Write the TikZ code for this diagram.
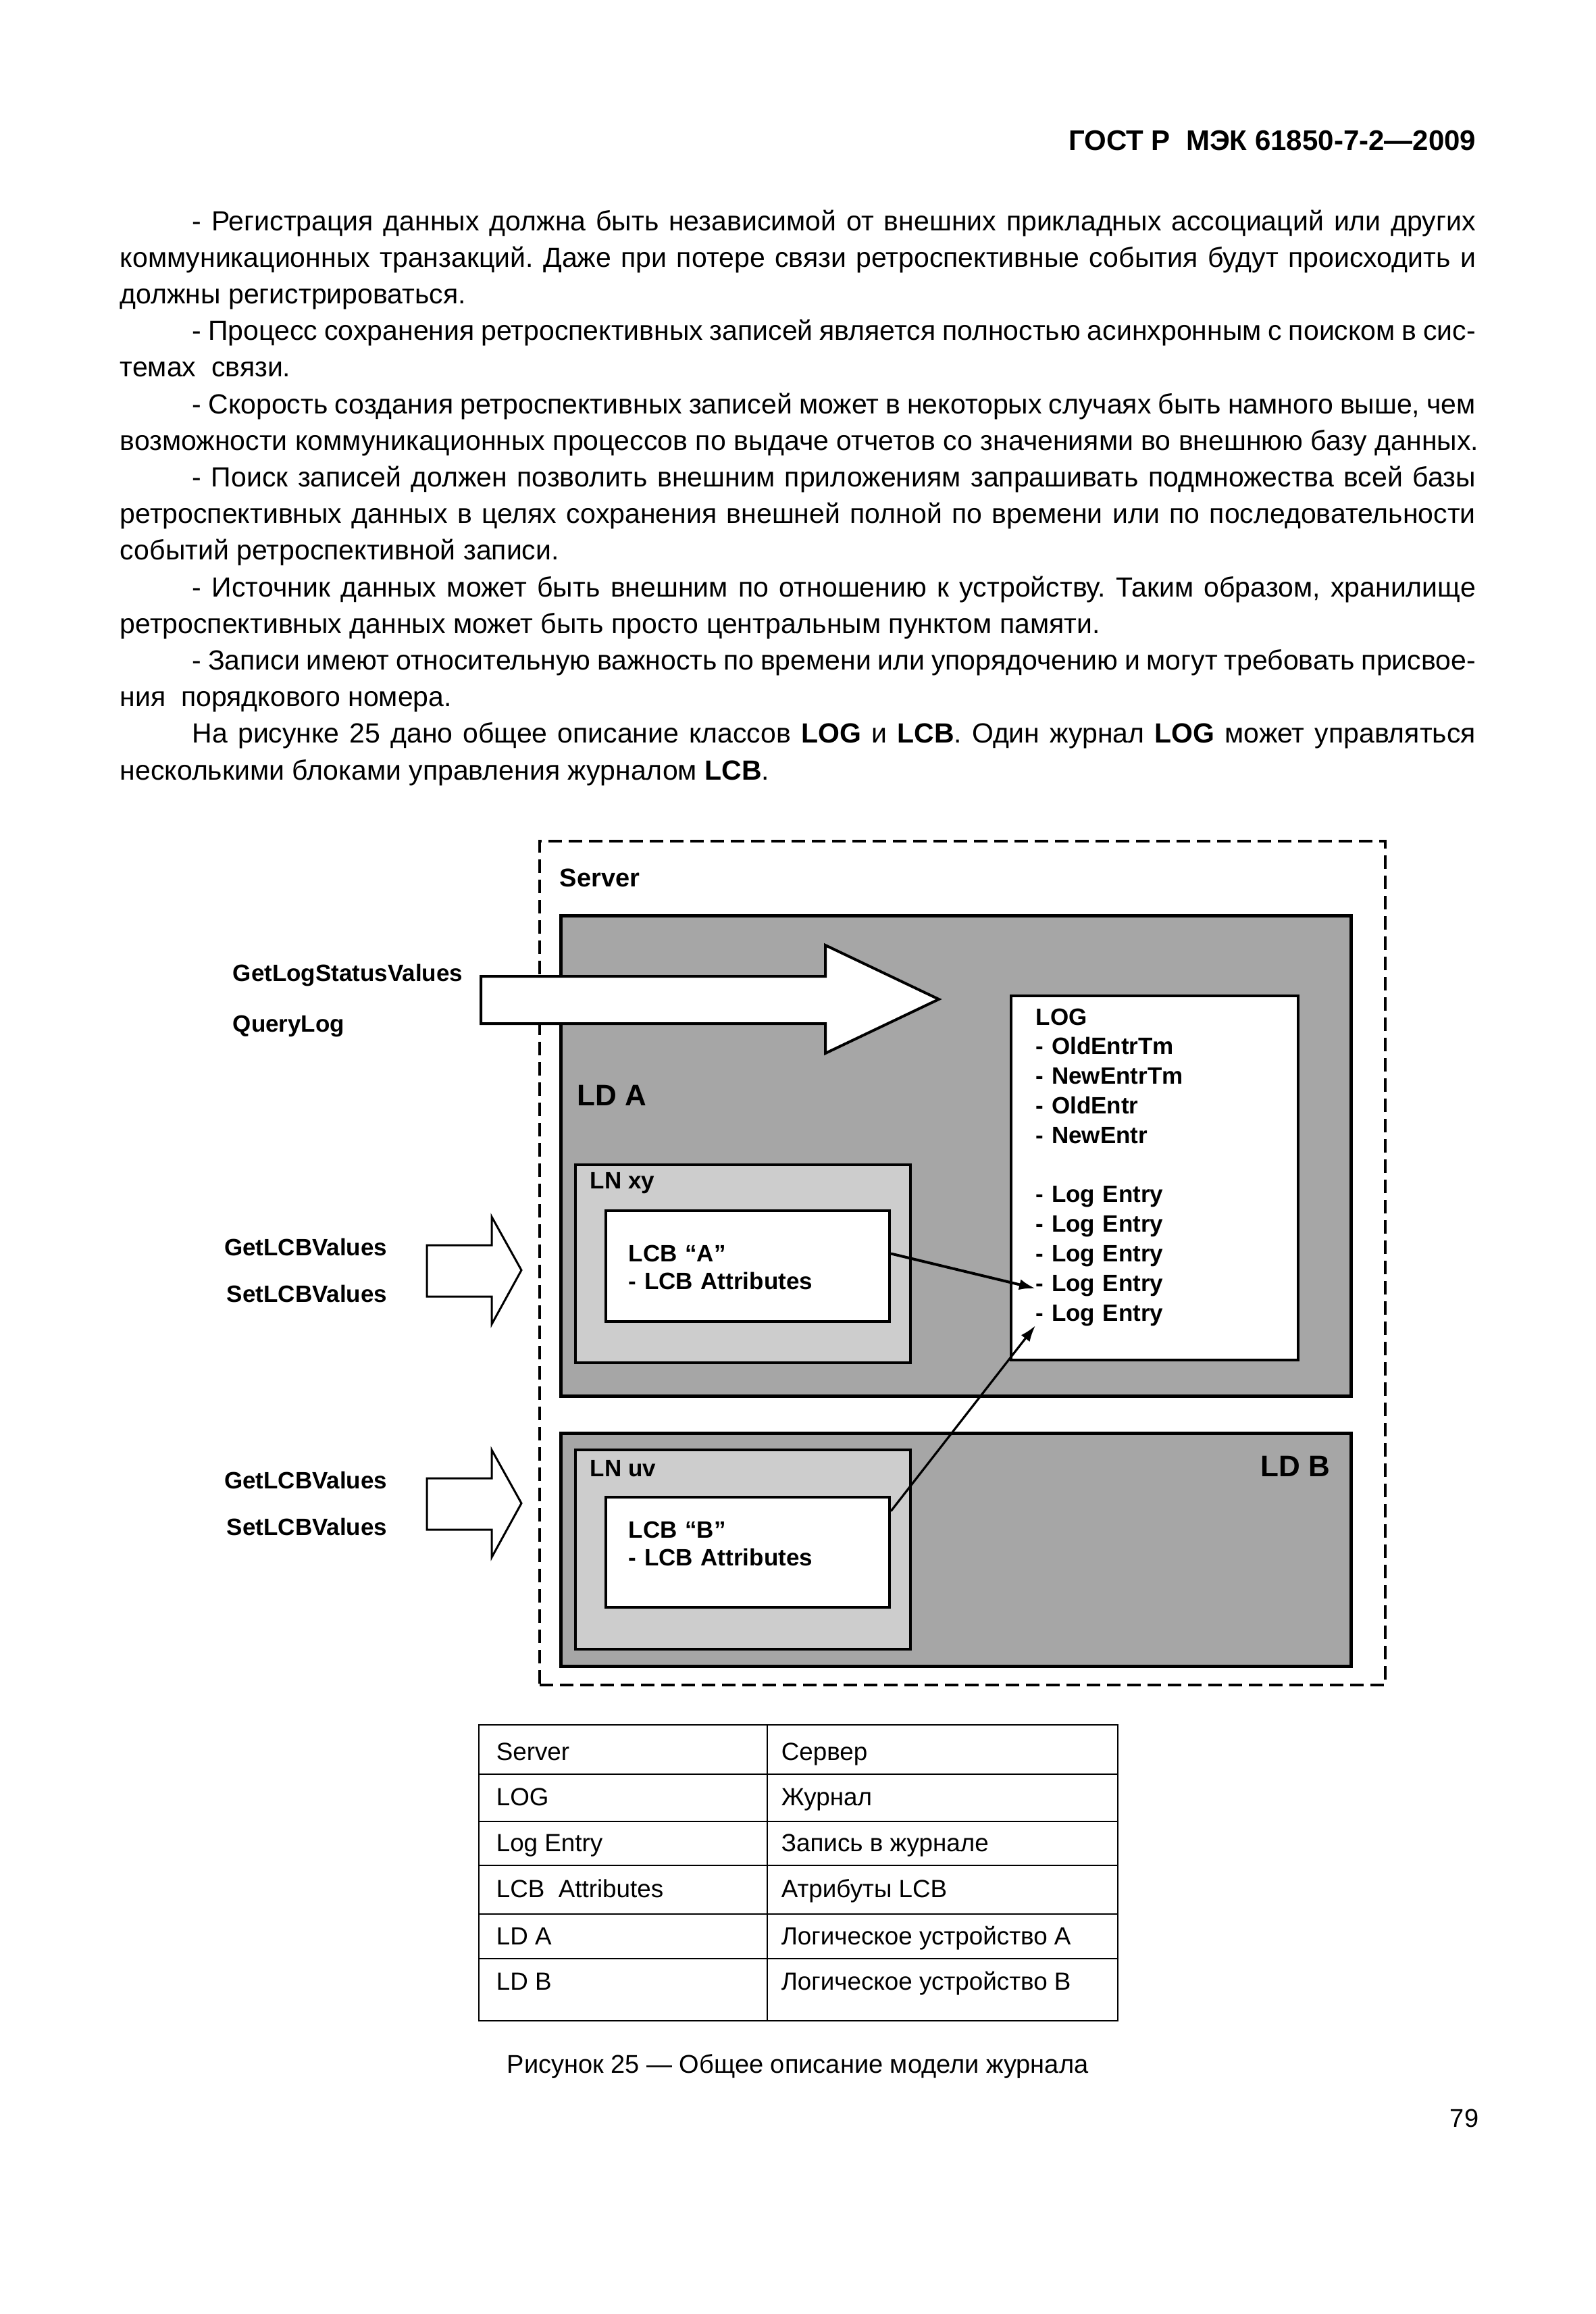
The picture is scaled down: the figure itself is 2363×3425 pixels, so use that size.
\documentclass[tikz,border=0pt]{standalone}
\usepackage{fontspec}
\setmainfont{Liberation Sans}
\usepackage{xcolor}
\usepackage{tikz}
\usetikzlibrary{arrows.meta,positioning,calc,fit}
\definecolor{ldgray}{RGB}{166,166,166}
\definecolor{lngray}{RGB}{205,205,205}
\newlength{\bodyw}\setlength{\bodyw}{501.75pt}
\newlength{\indw}\setlength{\indw}{475pt}
\newcommand{\jline}[1]{\makebox[\bodyw][s]{#1}}
\newcommand{\jind}[1]{\makebox[\indw][s]{#1}}
\frenchspacing

\begin{document}
\begin{tikzpicture}[x=0.25pt, y=-0.25pt,
    body/.style={font=\fontsize{10.25}{12.3}\selectfont, anchor=base west, inner sep=0pt},
    head/.style={font=\bfseries\fontsize{10.5}{12.6}\selectfont, anchor=base east, inner sep=0pt},
    lbl/.style={font=\bfseries\fontsize{8.75}{10.25}\selectfont, anchor=base west, inner sep=0pt},
    bigl/.style={font=\bfseries\fontsize{11}{13}\selectfont, inner sep=0pt},
    server/.style={draw, line width=1pt, dash pattern=on 5pt off 2.5pt, inner sep=0pt},
    ldbox/.style={draw, line width=1.25pt, fill=ldgray, inner sep=0pt},
    lnbox/.style={draw, line width=1pt, fill=lngray, inner sep=0pt},
    wbox/.style={draw, line width=1pt, fill=white, inner sep=0pt},
    blockarr/.style={draw, fill=white, line join=miter},
    link/.style={-{Latex[length=6pt,width=4pt]}, line width=1pt},
    tbl/.style={line width=0.7pt},
    cell/.style={font=\fontsize{9.2}{11}\selectfont, anchor=base west, inner sep=0pt},
    capt/.style={font=\fontsize{9.5}{11.4}\selectfont, inner sep=0pt}
]
\path[use as bounding box, fill=white] (0,0) rectangle (2363,3425);

% page head and text
\node[head] (gost) at (2186,223) {ГОСТ Р\ \ МЭК 61850-7-2—2009};
\node[body] (p1)  at (284,341)    {\jind{- Регистрация данных должна быть независимой от внешних прикладных ассоциаций или других}};
\node[body] (p2)  at (177,395.2)  {\jline{коммуникационных транзакций. Даже при потере связи ретроспективные  события  будут происходить и}};
\node[body] (p3)  at (177,449.4)  {должны регистрироваться.};
\node[body] (p4)  at (284,503.6)  {\jind{- Процесс сохранения ретроспективных записей является полностью асинхронным с поиском в сис-}};
\node[body] (p5)  at (177,557.8)  {темах\ \ связи.};
\node[body] (p6)  at (284,612)    {\jind{- Скорость создания ретроспективных записей может в некоторых случаях быть намного выше, чем}};
\node[body] (p7)  at (177,666.2)  {возможности коммуникационных процессов по выдаче отчетов со значениями во внешнюю базу данных.};
\node[body] (p8)  at (284,720.4)  {\jind{- Поиск записей должен позволить внешним приложениям запрашивать подмножества всей базы}};
\node[body] (p9)  at (177,774.6)  {\jline{ретроспективных данных в целях сохранения внешней полной по времени или по последовательности}};
\node[body] (p10) at (177,828.8)  {событий ретроспективной записи.};
\node[body] (p11) at (284,883)    {\jind{- Источник данных может быть внешним по отношению к устройству. Таким образом, хранилище}};
\node[body] (p12) at (177,937.2)  {ретроспективных данных может быть просто центральным пунктом памяти.};
\node[body] (p13) at (284,991.4)  {\jind{- Записи имеют относительную важность по времени или упорядочению и могут требовать присвое-}};
\node[body] (p14) at (177,1045.6) {ния\ \ порядкового номера.};
\node[body] (p15) at (284,1099.8) {\jind{На рисунке 25 дано общее описание классов \textbf{LOG} и \textbf{LCB}. Один журнал \textbf{LOG} может управляться}};
\node[body] (p16) at (177,1154)   {несколькими блоками управления журналом \textbf{LCB}.};

% diagram boxes
\node[server, fit={(799,1245) (2051,2494)}] (srv) {};
\node[ldbox, fit={(830,1355) (2000,2066)}] (lda) {};
\node[ldbox, fit={(830,2121) (2000,2466)}] (ldb) {};
\node[lnbox, fit={(852,1724) (1348,2017)}] (lnxy) {};
\node[lnbox, fit={(852,2146) (1348,2441)}] (lnuv) {};
\node[wbox, fit={(897,1792) (1317,1956)}] (lcba) {};
\node[wbox, fit={(897,2216) (1317,2379)}] (lcbb) {};
\node[wbox, fit={(1497,1474) (1922,2013)}] (log) {};

% service arrows
\draw[blockarr, line width=1pt] (712,1445) -- (1222,1445) -- (1222,1399) -- (1390,1479)
  -- (1222,1559) -- (1222,1515) -- (712,1515) -- cycle;
\foreach \dy in {0,345}
  \draw[blockarr, line width=0.75pt, shift={(0,\dy)}] (632,1843) -- (728,1843) -- (728,1801)
    -- (772,1880) -- (728,1960) -- (728,1919) -- (632,1919) -- cycle;

% labels
\node[lbl, font=\bfseries\fontsize{9.5}{11}\selectfont] (srvl) at (828,1312) {Server};
\node[bigl, anchor=base west] (ldal) at (854,1636) {LD A};
\node[bigl, anchor=base east] (ldbl) at (1970,2185) {LD B};
\node[lbl] (lnxyl) at (873,1759) {LN xy};
\node[lbl] (lnuvl) at (873,2185) {LN uv};
\node[lbl, text width=80pt, font=\bfseries\fontsize{8.75}{10.25}\selectfont] (lcbal) at (930,1867) {LCB “A”\\- LCB Attributes};
\node[lbl, text width=80pt, font=\bfseries\fontsize{8.75}{10.4}\selectfont] (lcbbl) at (930,2276) {LCB “B”\\- LCB Attributes};
\node[lbl, text width=90pt, font=\bfseries\fontsize{8.75}{10.95}\selectfont] (logl) at (1533,1517)
  {LOG\\- OldEntrTm\\- NewEntrTm\\- OldEntr\\- NewEntr\\[10.95pt]- Log Entry\\- Log Entry\\- Log Entry\\- Log Entry\\- Log Entry};
\node[lbl] (getlog) at (344,1452) {GetLogStatusValues};
\node[lbl] (qlog) at (344,1527) {QueryLog};
\node[lbl, anchor=base east] (get1) at (574,1858) {GetLCBValues};
\node[lbl, anchor=base east] (set1) at (574,1927) {SetLCBValues};
\node[lbl, anchor=base east] (get2) at (574,2203) {GetLCBValues};
\node[lbl, anchor=base east] (set2) at (574,2272) {SetLCBValues};

% links to log entries
\coordinate (e4) at (1533,1907);
\coordinate (e5) at (1533,1962);
\draw[link] (lcba.5) -- (e4);
\draw[link, line width=0.8pt] (lcbb.16) -- (e5);

% legend table
\draw[tbl] (709,2553) rectangle (1655,2991);
\foreach \y in {2626,2696,2761,2833,2899}
  \draw[tbl] (709,\y) -- (1655,\y);
\draw[tbl] (1136,2553) -- (1136,2991);
\foreach \y/\a/\b [count=\i] in {2605/Server/Сервер, 2672/LOG/Журнал, 2740/Log Entry/Запись в журнале,
    2808/{LCB\ \ Attributes}/Атрибуты LCB, 2878/LD A/Логическое устройство A, 2945/LD B/Логическое устройство B}
{
  \node[cell] (ta\i) at (734,\y) {\a};
  \node[cell] (tb\i) at (1156,\y) {\b};
}

\node[capt, anchor=base] (fig) at (1181,3068) {Рисунок 25 — Общее описание модели журнала};
\node[capt, anchor=base east] (pnum) at (2190,3148) {79};
\end{tikzpicture}
\end{document}
